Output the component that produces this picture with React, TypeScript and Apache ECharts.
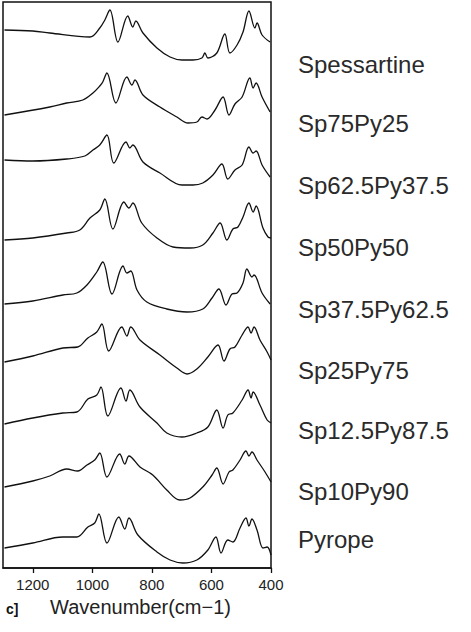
import React, { useEffect, useRef } from "react";
import * as echarts from "echarts";

// Wavenumber (cm-1), relative intensity (offset stacked, arbitrary units)
const spessartine: [number, number][] = [
  [1295, 53.8], [1200, 53.7], [1143, 53.5], [1008, 53.1], [975, 54.0], [958, 54.8], [941, 55.8],
  [914, 52.6], [881, 55.2], [864, 54.1], [854, 54.7], [830, 53.5], [783, 52.0], [739, 51.1],
  [699, 50.8], [662, 50.8], [632, 51.0], [622, 51.5], [612, 51.0], [582, 51.5], [555, 53.4],
  [538, 51.5], [514, 52.3], [494, 53.6], [474, 55.7], [454, 54.0], [447, 54.5], [430, 53.3], [403, 52.6],
];
const sp75py25: [number, number][] = [
  [1295, 45.3], [1143, 46.1], [1086, 46.5], [1032, 46.8], [998, 47.5], [975, 48.2], [965, 48.6],
  [951, 49.5], [921, 46.5], [884, 49.1], [867, 48.3], [857, 48.8], [830, 47.3], [773, 46.1],
  [716, 45.1], [679, 44.5], [649, 44.6], [632, 45.1], [615, 44.9], [588, 45.8], [561, 47.1],
  [541, 45.3], [521, 46.4], [497, 47.1], [471, 49.0], [460, 48.0], [450, 48.5], [430, 47.1], [403, 45.6],
];
const sp62py37: [number, number][] = [
  [1295, 40.8], [1200, 40.7], [1086, 40.9], [1025, 41.2], [998, 41.8], [975, 42.3], [951, 43.3],
  [928, 40.5], [887, 42.6], [874, 42.0], [864, 42.3], [830, 40.6], [773, 39.5], [699, 38.3],
  [662, 38.3], [629, 38.5], [595, 39.3], [565, 40.4], [545, 38.9], [521, 39.8], [497, 40.3],
  [474, 42.1], [460, 41.5], [450, 41.7], [430, 40.3], [403, 39.1],
];
const sp50py50: [number, number][] = [
  [1295, 32.8], [1200, 33.0], [1086, 33.5], [1042, 33.8], [1008, 35.0], [975, 35.8], [958, 36.9],
  [931, 33.9], [894, 36.6], [877, 36.0], [864, 36.5], [834, 34.5], [783, 33.0], [729, 32.1],
  [672, 32.0], [629, 32.3], [595, 33.5], [571, 34.5], [548, 32.8], [528, 33.9], [511, 34.1],
  [494, 35.1], [474, 36.5], [460, 35.6], [450, 36.2], [427, 34.0], [410, 33.1], [400, 33.0],
];
const sp37py62: [number, number][] = [
  [1295, 26.4], [1200, 26.7], [1099, 27.3], [1052, 27.5], [1018, 28.3], [985, 29.6], [965, 30.6],
  [934, 27.4], [897, 30.2], [884, 29.5], [871, 29.7], [850, 27.8], [817, 26.6], [750, 25.9],
  [682, 25.6], [629, 25.9], [598, 27.0], [575, 27.9], [551, 26.3], [531, 27.4], [514, 27.5],
  [494, 28.5], [481, 29.9], [464, 29.1], [457, 29.3], [430, 27.5], [403, 26.4],
];
const sp25py75: [number, number][] = [
  [1295, 20.6], [1200, 21.2], [1099, 22.0], [1049, 22.1], [1015, 23.0], [985, 23.6], [968, 24.4],
  [945, 21.7], [901, 24.1], [884, 23.2], [871, 24.1], [840, 22.8], [773, 21.3], [716, 20.0],
  [682, 19.4], [649, 19.9], [612, 21.1], [578, 22.3], [558, 20.7], [538, 21.9], [521, 22.1],
  [497, 23.3], [477, 24.1], [467, 23.5], [457, 24.1], [437, 22.8], [413, 21.6], [400, 20.8],
];
const sp12py87: [number, number][] = [
  [1295, 14.4], [1200, 15.0], [1099, 15.5], [1052, 15.6], [1015, 16.9], [985, 17.3], [971, 18.1],
  [948, 15.2], [904, 18.0], [887, 16.7], [874, 17.8], [840, 16.1], [783, 14.5], [750, 13.5],
  [699, 13.1], [649, 13.5], [612, 14.1], [582, 15.8], [561, 14.0], [545, 15.3], [528, 15.5],
  [497, 16.8], [477, 17.8], [467, 17.0], [460, 17.6], [437, 16.3], [413, 14.8], [400, 14.5],
];
const sp10py90: [number, number][] = [
  [1295, 8.1], [1200, 8.7], [1143, 9.2], [1086, 9.9], [1049, 9.7], [1018, 10.3], [992, 10.8],
  [975, 11.5], [951, 9.1], [908, 11.4], [891, 10.4], [877, 11.2], [840, 10.1], [797, 9.3],
  [750, 7.8], [706, 6.8], [672, 7.0], [629, 8.1], [598, 9.3], [582, 10.0], [561, 8.4],
  [541, 9.6], [528, 9.8], [504, 10.8], [484, 11.7], [474, 11.2], [464, 11.6], [447, 10.8],
  [420, 9.6], [400, 8.6],
];
const pyrope: [number, number][] = [
  [1295, 2.0], [1200, 2.5], [1099, 3.1], [1052, 3.1], [1015, 4.1], [992, 4.5], [978, 5.4],
  [951, 2.5], [911, 5.1], [891, 3.9], [877, 5.0], [847, 3.3], [783, 1.6], [739, 0.8],
  [696, 0.5], [649, 0.8], [612, 1.8], [585, 3.1], [568, 1.5], [545, 2.8], [528, 2.6],
  [504, 4.0], [484, 5.0], [474, 4.2], [464, 4.9], [447, 3.8], [427, 2.0], [413, 2.1], [400, 1.3],
];

const sampleNames = [
  "Spessartine", "Sp75Py25", "Sp62.5Py37.5", "Sp50Py50", "Sp37.5Py62.5",
  "Sp25Py75", "Sp12.5Py87.5", "Sp10Py90", "Pyrope",
];
const spectra = [spessartine, sp75py25, sp62py37, sp50py50, sp37py62, sp25py75, sp12py87, sp10py90, pyrope];
const xTicks = [1200, 1000, 800, 600, 400];

export default function App() {
  const ref = useRef<HTMLDivElement>(null);
  useEffect(() => {
    if (!ref.current) return;
    const chart = echarts.init(ref.current, null, { renderer: "svg" });
    const labelY = [66, 125, 187, 249, 311, 372, 432, 493, 541];
    chart.setOption({
      animation: false,
      backgroundColor: "#fff",
      grid: {
        left: 3, right: 200, top: 2, bottom: 64, show: true,
        borderColor: "#111", borderWidth: 1.5, backgroundColor: "transparent",
      },
      xAxis: {
        type: "value", min: 400, max: 1300, inverse: true,
        axisLine: { show: true, lineStyle: { color: "#111", width: 1.5 } },
        axisTick: { show: true, inside: false, length: 5, customValues: xTicks, lineStyle: { color: "#111", width: 1.3 } },
        axisLabel: {
          customValues: xTicks, fontSize: 15, margin: 9, color: "#222", fontFamily: "Liberation Sans",
          formatter: (v: number) => String(v),
        },
        splitLine: { show: false },
      },
      yAxis: { type: "value", min: 0, max: 56.6, show: false },
      series: spectra.map((d, i) => ({
        type: "line", name: sampleNames[i], data: d, showSymbol: false, smooth: 0.35,
        lineStyle: { color: "#111", width: 1.3 },
      })),
      graphic: [
        ...sampleNames.map((n, i) => ({
          type: "text", left: 298, top: labelY[i] - 14,
          style: { text: n, fontSize: 24, fontFamily: "Liberation Sans", fill: "#2a2a2a" },
        })),
        { type: "text", left: 50, top: 597, style: { text: "Wavenumber(cm\u22121)", fontSize: 20, fontFamily: "Liberation Sans", fill: "#222" } },
        { type: "text", left: 6, top: 602, style: { text: "c]", fontSize: 14, fontWeight: "bold", fontFamily: "Liberation Sans", fill: "#111" } },
      ],
    });
    return () => chart.dispose();
  }, []);
  return (
    <div ref={ref} style={{ position: "fixed", left: 0, top: 0, width: 471, height: 632, background: "#fff" }} />
  );
}
